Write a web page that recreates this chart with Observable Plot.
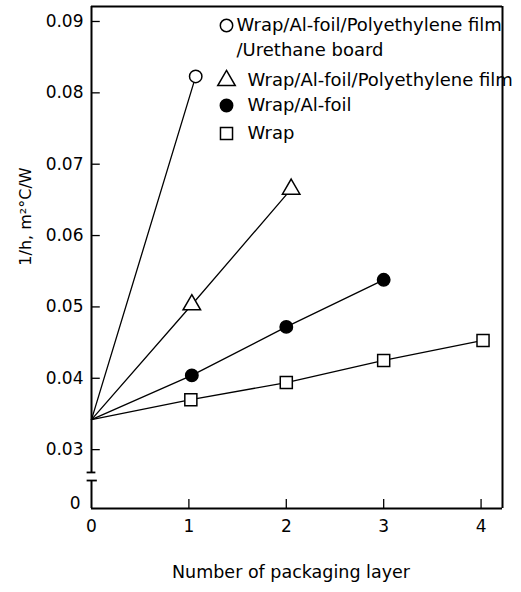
<!DOCTYPE html>
<html>
<head>
<meta charset="utf-8">
<script src="https://cdn.jsdelivr.net/npm/d3@7"></script>
<script src="https://cdn.jsdelivr.net/npm/@observablehq/plot@0.6"></script>
<style>
  html, body { margin: 0; padding: 0; background: #fff; }
</style>
</head>
<body>
<div id="chart"></div>
<script>
// ---- data ----
const seriesNames = [
  "Wrap/Al-foil/Polyethylene film/Urethane board",
  "Wrap/Al-foil/Polyethylene film",
  "Wrap/Al-foil",
  "Wrap"
];
const seriesSymbols = ["circle", "triangle", "circle", "square"];
const seriesFilled = [false, false, true, false];

const urethaneX = [0, 1.07];
const urethaneY = [0.0342, 0.0823];
const polyX = [0, 1.03, 2.05];
const polyY = [0.0342, 0.0503, 0.0665];
const foilX = [0, 1.03, 2.0, 3.0];
const foilY = [0.0342, 0.0404, 0.0472, 0.0538];
const wrapX = [0, 1.02, 2.0, 3.0, 4.02];
const wrapY = [0.0342, 0.0370, 0.0394, 0.0425, 0.0453];

const xTicks = [0, 1, 2, 3, 4];
const yTicks = [0.03, 0.04, 0.05, 0.06, 0.07, 0.08, 0.09];
const yZeroLabel = "0";
const legendLines = [
  "Wrap/Al-foil/Polyethylene film",
  "/Urethane board",
  "Wrap/Al-foil/Polyethylene film",
  "Wrap/Al-foil",
  "Wrap"
];
const xLabel = "Number of packaging layer";
const yLabel = "1/h, m\u00b2\u00b0C/W";

// ---- build tables ----
const allX = [urethaneX, polyX, foilX, wrapX];
const allY = [urethaneY, polyY, foilY, wrapY];
const rows = [];
allX.forEach((xs, s) => xs.forEach((x, i) => rows.push({series: s, x, y: allY[s][i], marker: i > 0})));
const markers = rows.filter(d => d.marker);

// ---- layout ----
const W = 521, H = 592;
const mL = 91, mR = 19, mT = 6, mB = 84;
const xMax = 4.22;
const yTop = 0.0921, yBreak = 0.0268;
// broken axis: the span 0..yBreak is squeezed into a short stub
const stub = 0.00505;
const yT = v => v >= yBreak ? v : yBreak - stub + v * (stub / yBreak);
const yBreakLow = 0.0208;
const font = "'DejaVu Sans', 'Liberation Sans', sans-serif";

const symR = s => s === 3 ? 6.8 : s === 1 ? 6.5 : 6.2;

const legendRowsDy = [19, 44, 74, 99, 127];
const legendSym = [0, null, 1, 2, 3];
const legendTextDx = [145, 145, 156, 156, 156];

const legendMarks = legendLines.flatMap((t, i) => {
  const m = [Plot.text([t], {frameAnchor: "top-left", dx: legendTextDx[i], dy: legendRowsDy[i], textAnchor: "start", lineAnchor: "middle", fontSize: 18})];
  const s = legendSym[i];
  if (s !== null) m.push(Plot.dot([s], {
    frameAnchor: "top-left", dx: 135, dy: legendRowsDy[i],
    symbol: seriesSymbols[s], r: symR(s),
    fill: seriesFilled[s] ? "#000" : "#fff", stroke: "#000", strokeWidth: 1.5
  }));
  return m;
});

const plot = Plot.plot({
  width: W,
  height: H,
  marginLeft: mL,
  marginRight: mR,
  marginTop: mT,
  marginBottom: mB,
  style: {fontFamily: font, fontSize: "16px", background: "#fff", color: "#000"},
  x: {domain: [0, xMax]},
  y: {domain: [yBreak - stub, yTop], transform: yT},
  r: {type: "identity"},
  marks: [
    // frame with broken left axis
    Plot.ruleY([yTop], {x1: 0, x2: xMax, stroke: "#000", strokeWidth: 2}),
    Plot.ruleY([0], {x1: 0, x2: xMax, stroke: "#000", strokeWidth: 2}),
    Plot.ruleX([xMax], {y1: 0, y2: yTop, stroke: "#000", strokeWidth: 2}),
    Plot.ruleX([0], {y1: yBreak, y2: yTop, stroke: "#000", strokeWidth: 2}),
    Plot.ruleX([0], {y1: 0, y2: yBreakLow, stroke: "#000", strokeWidth: 2}),
    Plot.ruleY([yBreak], {x1: -0.045, x2: 0.045, stroke: "#000", strokeWidth: 1.8}),
    Plot.ruleY([yBreakLow], {x1: -0.045, x2: 0.06, stroke: "#000", strokeWidth: 1.8}),
    // inward ticks
    Plot.ruleY(yTicks, {x1: 0, x2: 0.09, stroke: "#000", strokeWidth: 1.3}),
    Plot.ruleX(xTicks.filter(v => v > 0), {y1: 0, y2: 0.0067, stroke: "#000", strokeWidth: 1.3}),
    Plot.axisY({ticks: yTicks, tickSize: 0, tickPadding: 8, tickFormat: d3.format(".2f"), fontSize: 17, label: null}),
    Plot.text([yZeroLabel], {x: 0, y: 0, dx: -11, dy: -5, textAnchor: "end", fontSize: 17}),
    Plot.axisX({ticks: xTicks, tickSize: 0, tickPadding: 11, tickFormat: d => String(d), fontSize: 17, label: null}),
    // data lines
    Plot.line(rows, {x: "x", y: "y", z: "series", stroke: "#000", strokeWidth: 1.3}),
    Plot.dot(markers, {
      x: "x", y: "y",
      symbol: d => seriesSymbols[d.series],
      r: d => symR(d.series),
      fill: d => seriesFilled[d.series] ? "#000" : "#fff",
      stroke: "#000", strokeWidth: 1.5
    }),
    ...legendMarks,
    // axis titles
    Plot.text([xLabel], {frameAnchor: "bottom", dx: -6, dy: 69, fontSize: 17.5}),
    Plot.text([yLabel], {frameAnchor: "left", textAnchor: "middle", dx: -66, dy: -41, rotate: -90, fontSize: 16})
  ]
});

document.getElementById("chart").appendChild(plot);
</script>
</body>
</html>
